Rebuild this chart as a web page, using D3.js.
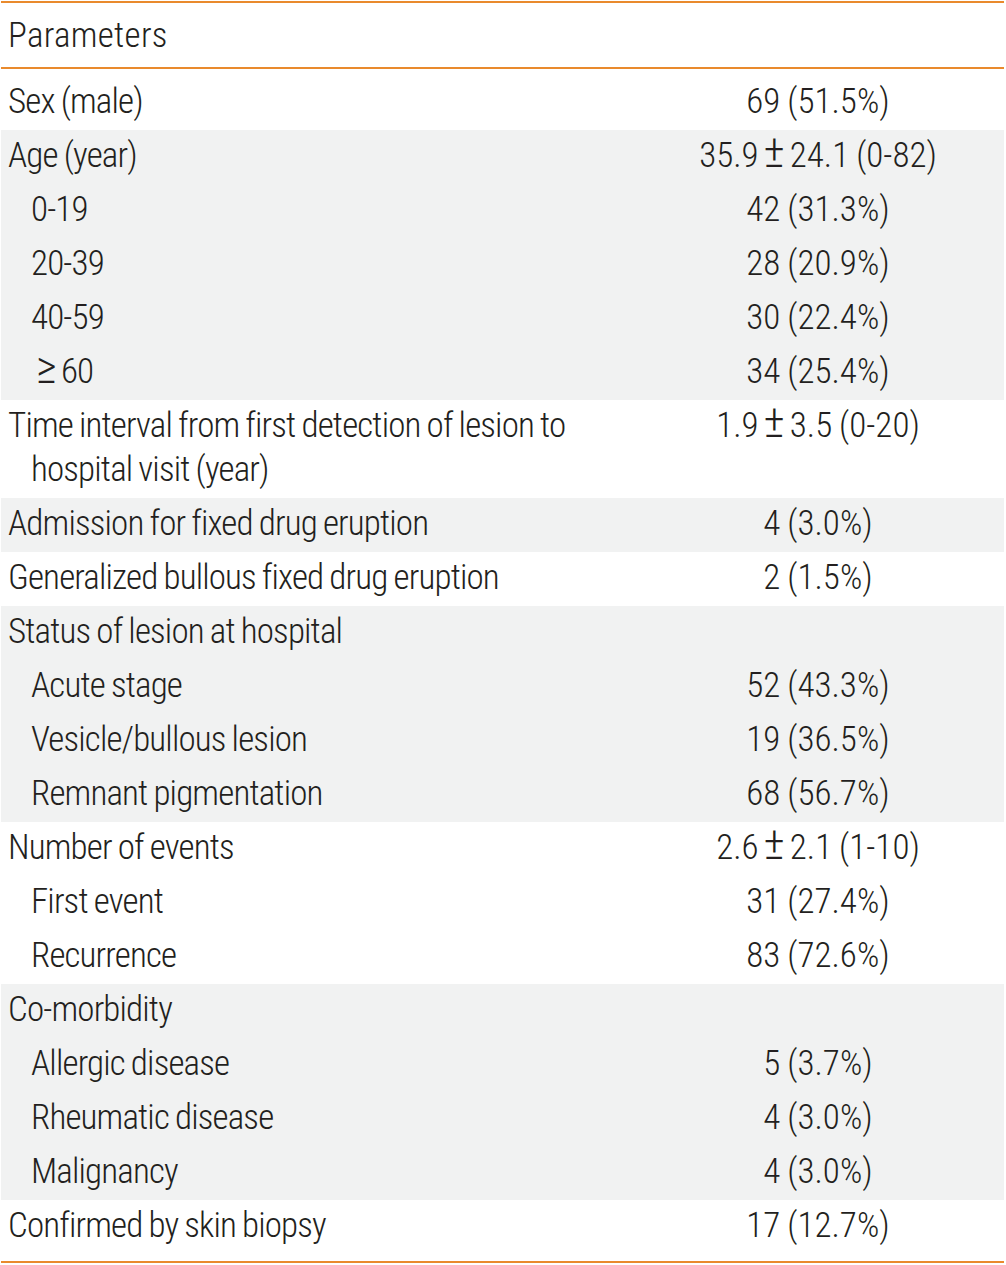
<!DOCTYPE html>
<html>
<head>
<meta charset="utf-8">
<script src="https://cdn.jsdelivr.net/npm/d3@7"></script>
<style>
  html, body { margin: 0; padding: 0; background: #fff; }
  svg { display: block; }
  text { font-family: "Roboto Condensed", "Liberation Sans Narrow", "DejaVu Sans Condensed", sans-serif; fill: #231f20; font-weight: 300; }
</style>
</head>
<body>
<svg id="chart" width="1006" height="1265"></svg>
<script>
// ---- data ----
const headerLabel = "Parameters";
const rowLabels = [
  ["Sex (male)"],
  ["Age (year)"],
  ["0-19"],
  ["20-39"],
  ["40-59"],
  ["\u226560"],
  ["Time interval from first detection of lesion to", "hospital visit (year)"],
  ["Admission for fixed drug eruption"],
  ["Generalized bullous fixed drug eruption"],
  ["Status of lesion at hospital"],
  ["Acute stage"],
  ["Vesicle/bullous lesion"],
  ["Remnant pigmentation"],
  ["Number of events"],
  ["First event"],
  ["Recurrence"],
  ["Co-morbidity"],
  ["Allergic disease"],
  ["Rheumatic disease"],
  ["Malignancy"],
  ["Confirmed by skin biopsy"]
];
const rowValues = [
  "69 (51.5%)",
  "35.9\u00b124.1 (0-82)",
  "42 (31.3%)",
  "28 (20.9%)",
  "30 (22.4%)",
  "34 (25.4%)",
  "1.9\u00b13.5 (0-20)",
  "4 (3.0%)",
  "2 (1.5%)",
  "",
  "52 (43.3%)",
  "19 (36.5%)",
  "68 (56.7%)",
  "2.6\u00b12.1 (1-10)",
  "31 (27.4%)",
  "83 (72.6%)",
  "",
  "5 (3.7%)",
  "4 (3.0%)",
  "4 (3.0%)",
  "17 (12.7%)"
];
const rowIndent = [0,0,1,1,1,1,0,0,0,0,1,1,1,0,1,1,0,1,1,1,0];
const rowGroup  = [0,1,1,1,1,1,2,3,4,5,5,5,5,6,6,6,7,7,7,7,8];

// ---- layout ----
const left = 1, right = 1004;
const orange = "#e98a2d", band = "#f1f2f2";
const fontSize = 35;
const lineH = 44, rowPad = 10;
const topLineY = 2, headerLineY = 68, firstPad = 8, lastPad = 8;
const xText = 8, xIndent = 31, xValue = 818;

const svg = d3.select("#chart");

// compute row positions
let y = headerLineY + firstPad;
const rows = rowLabels.map((lines, i) => {
  const h = rowPad + lineH * lines.length;
  const r = { i, lines, value: rowValues[i], indent: rowIndent[i], group: rowGroup[i], y0: y, h };
  y += h;
  return r;
});
const bottomY = y + lastPad;

// group bands
const groups = d3.groups(rows, d => d.group).map(([g, rs]) => ({
  g, y0: rs[0].y0, y1: rs[rs.length - 1].y0 + rs[rs.length - 1].h
}));
groups.forEach(gr => { if (gr.g === 0) gr.y0 = headerLineY; if (gr.g === 8) gr.y1 = bottomY; });

svg.append("g").selectAll("rect")
  .data(groups.filter(d => d.g % 2 === 1))
  .join("rect")
  .attr("x", left).attr("width", right - left)
  .attr("y", d => d.y0).attr("height", d => d.y1 - d.y0)
  .attr("fill", band);

// lines
svg.append("g").selectAll("line")
  .data([topLineY, headerLineY, bottomY])
  .join("line")
  .attr("x1", left).attr("x2", right)
  .attr("y1", d => d).attr("y2", d => d)
  .attr("stroke", orange).attr("stroke-width", 2);

// header
svg.append("text")
  .attr("x", xText).attr("y", 47)
  .attr("font-size", fontSize)
  .attr("letter-spacing", 0.3)
  .text(headerLabel);

// labels
const rowG = svg.append("g").selectAll("g").data(rows).join("g");

function addRich(sel, str) {
  const parts = str.split(/([\u00b1\u2265])/);
  parts.forEach((p, k) => {
    if (!p) return;
    const t = sel.append("tspan").text(p);
    if (p === "\u00b1" || p === "\u2265") {
      t.attr("dx", p === "\u00b1" ? 5 : 5).attr("font-size", fontSize * 1.3);
    } else if (k > 0) {
      t.attr("dx", 5);
    }
  });
}

rowG.each(function(d) {
  const g = d3.select(this);
  d.lines.forEach((ln, k) => {
    const t = g.append("text")
      .attr("x", (d.indent || k > 0) ? xIndent : xText)
      .attr("y", d.y0 + 37 + k * lineH)
      .attr("font-size", fontSize)
      .attr("letter-spacing", -0.85)
      .attr("word-spacing", -1);
    addRich(t, ln);
  });
  if (d.value) {
    const t = g.append("text")
      .attr("x", xValue)
      .attr("y", d.y0 + 37)
      .attr("text-anchor", "middle")
      .attr("font-size", fontSize)
      .attr("letter-spacing", 0)
      .attr("word-spacing", -1);
    addRich(t, d.value);
  }
});
</script>
</body>
</html>
